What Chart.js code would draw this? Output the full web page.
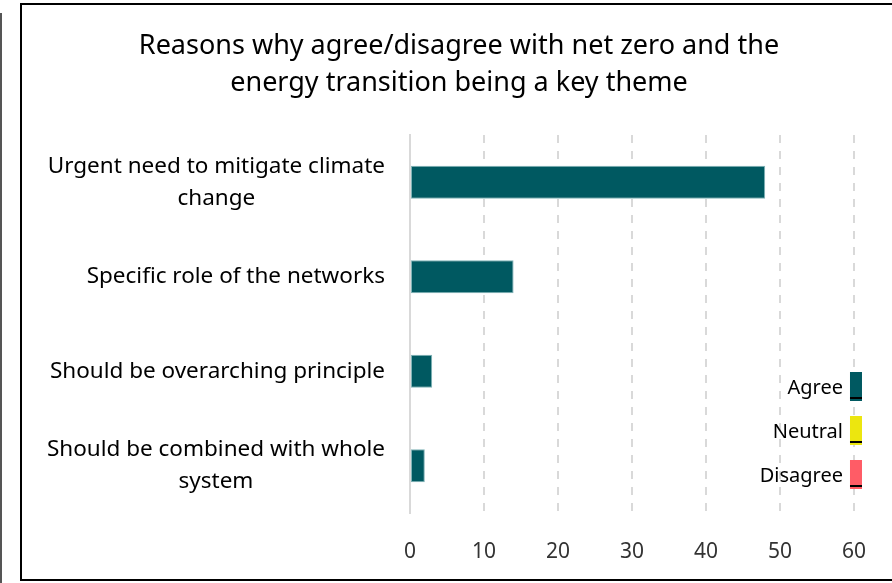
<!DOCTYPE html>
<html lang="en">
<head>
<meta charset="UTF-8">
<title>Reasons why agree/disagree</title>
<script src="https://cdn.jsdelivr.net/npm/chart.js"></script>
<style>
    body { margin: 0; background: #fff; }
    #wrap { position: relative; width: 892px; height: 583px; overflow: hidden; }
    #prev { position: absolute; left: 0; top: 13px; width: 10px; height: 600px; border: 2px solid #555; box-sizing: border-box; margin-left: -8px; }
    #frame { position: absolute; left: 20px; top: 3px; width: 900px; height: 578px; border: 2px solid #000; box-sizing: border-box; }
    canvas { position: absolute; left: 0; top: 0; }
</style>
</head>
<body>
<div id="wrap">
    <div id="prev"></div>
    <div id="frame"></div>
    <canvas id="myChart" width="892" height="583"></canvas>
</div>
<script>
// chart data
const categories = [
    ['Urgent need to mitigate climate', 'change'],
    ['Specific role of the networks'],
    ['Should be overarching principle'],
    ['Should be combined with whole', 'system']
];
const agreeValues = [48, 14, 3, 2];
const xTicks = [0, 10, 20, 30, 40, 50, 60];
const legendLabels = ['Agree', 'Neutral', 'Disagree'];
const legendColors = ['#005961', '#ece60f', '#ff5c66'];

const FONT = "'Noto Sans', sans-serif";

// category labels: each block right-aligned, lines centred inside the block
const catLabels = {
    id: 'catLabels',
    afterDraw(chart) {
        const ctx = chart.ctx;
        const y = chart.scales.y;
        const right = 385;
        const lh = 32;
        ctx.save();
        ctx.font = '22.5px ' + FONT;
        ctx.fillStyle = '#000';
        ctx.textAlign = 'center';
        ctx.textBaseline = 'middle';
        categories.forEach((lines, i) => {
            const w = Math.max(...lines.map(l => ctx.measureText(l).width));
            const cx = right - w / 2;
            const cy = y.getPixelForValue(i);
            lines.forEach((l, j) => {
                ctx.fillText(l, cx, cy + (j - (lines.length - 1) / 2) * lh);
            });
        });
        ctx.restore();
    }
};

// legend drawn inside the plot, boxes on the right of the text
const sideLegend = {
    id: 'sideLegend',
    afterDraw(chart) {
        const ctx = chart.ctx;
        const right = chart.chartArea.right;
        ctx.save();
        legendLabels.forEach((label, i) => {
            const top = 372 + i * 44;
            ctx.fillStyle = legendColors[i];
            ctx.fillRect(right - 4, top, 12, 29);
            ctx.fillStyle = '#000';
            ctx.fillRect(right - 4, top + 25, 12, 2);
            ctx.font = '20px ' + FONT;
            ctx.textAlign = 'right';
            ctx.textBaseline = 'middle';
            ctx.fillStyle = '#000';
            ctx.fillText(label, right - 11, top + 16);
        });
        ctx.restore();
    }
};

const ctx = document.getElementById('myChart').getContext('2d');
new Chart(ctx, {
    type: 'bar',
    data: {
        labels: categories,
        datasets: [{
            label: legendLabels[0],
            data: agreeValues,
            backgroundColor: legendColors[0],
            borderColor: '#7fb3b7',
            borderWidth: 1,
            borderSkipped: false,
            categoryPercentage: 0.35,
            barPercentage: 1
        }]
    },
    options: {
        indexAxis: 'y',
        responsive: false,
        animation: false,
        layout: { padding: { left: 64, right: 38, top: 0, bottom: 0 } },
        plugins: {
            legend: { display: false },
            tooltip: { enabled: false },
            title: {
                display: true,
                text: ['Reasons why agree/disagree with net zero and the', 'energy transition being a key theme'],
                color: '#000',
                font: { family: FONT, size: 27, weight: 'normal', lineHeight: 1.37 },
                padding: { top: 28, bottom: 33 }
            }
        },
        scales: {
            x: {
                min: 0,
                max: 60,
                afterBuildTicks: scale => { scale.ticks = xTicks.map(v => ({ value: v })); },
                afterFit: scale => { scale.height = 70; },
                grid: { color: '#d9d9d9', lineWidth: 2, drawTicks: false },
                border: { display: false, dash: [8, 8] },
                ticks: { color: '#333', padding: 26, font: { family: FONT, size: 21 } }
            },
            y: {
                afterFit: scale => { scale.width = 346; },
                grid: { display: false },
                border: { display: true, color: '#d9d9d9', width: 2 },
                ticks: { display: false }
            }
        }
    },
    plugins: [catLabels, sideLegend]
});
</script>
</body>
</html>
